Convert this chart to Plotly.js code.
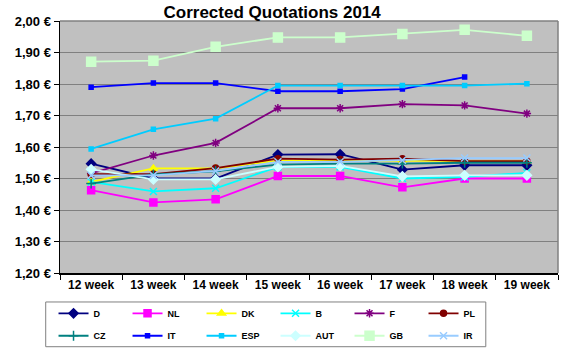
<!DOCTYPE html>
<html>
<head>
<meta charset="utf-8">
<script src="https://cdn.plot.ly/plotly-3.0.1.min.js"></script>
<style>html,body{margin:0;padding:0;background:#fff;}#chart{width:563px;height:348px;}</style>
</head>
<body>
<div id="chart"></div>
<script>
var weeks = ["12 week","13 week","14 week","15 week","16 week","17 week","18 week","19 week"];
var D   = [1.547, 1.500, 1.500, 1.576, 1.577, 1.528, 1.542, 1.542];
var NL  = [1.463, 1.424, 1.434, 1.508, 1.508, 1.472, 1.500, 1.500];
var DK  = [1.489, 1.532, 1.532, 1.557, 1.557, 1.557, 1.555, 1.555];
var B   = [1.489, 1.459, 1.469, 1.537, 1.537, 1.500, 1.505, 1.518];
var F   = [1.516, 1.573, 1.613, 1.723, 1.723, 1.736, 1.732, 1.706];
var PL  = [1.514, 1.514, 1.533, 1.563, 1.560, 1.563, 1.555, 1.555];
var CZ  = [1.484, 1.513, 1.523, 1.544, 1.547, 1.547, 1.550, 1.550];
var IT  = [1.790, 1.803, 1.803, 1.777, 1.777, 1.784, 1.822, null];
var ESP = [1.594, 1.656, 1.690, 1.795, 1.795, 1.795, 1.795, 1.801];
var AUT = [1.529, 1.497, 1.497, 1.537, 1.540, 1.507, 1.510, 1.510];
var GB  = [1.871, 1.874, 1.918, 1.948, 1.948, 1.959, 1.972, 1.953];
var IR  = [1.510, 1.510, 1.524, 1.553, 1.553, 1.558, 1.565, 1.565];

var seriesNames = ["D","NL","DK","B","F","PL","CZ","IT","ESP","AUT","GB","IR"];
var seriesData = [D, NL, DK, B, F, PL, CZ, IT, ESP, AUT, GB, IR];
var colors = ["#000080","#FF00FF","#FFFF00","#00FFFF","#800080","#800000","#008080","#0000FF","#00CCFF","#CCFFFF","#CCFFCC","#99CCFF"];
var symbols = ["diamond","square","triangle-up","x-thin-open","asterisk-open","circle","cross-thin-open","square","square","diamond","square","x-thin-open"];
var sizes = [7,7,7,7,7,6,7,4,4,7,9,7];

var traces = seriesNames.map(function(n, i){
  return {
    type: "scatter", mode: "lines+markers", name: n, x: weeks, y: seriesData[i],
    line: {color: colors[i], width: 1.8},
    marker: {symbol: symbols[i], size: sizes[i], color: colors[i], line: {color: colors[i], width: 1.5}},
    connectgaps: false,
    legend: i < 6 ? "legend" : "legend2"
  };
});

var legFont = {family: "Liberation Sans, Arial, sans-serif", size: 9, color: "#000", weight: "bold"};
var legCommon = {
  orientation: "h", xanchor: "left", yanchor: "middle", x: -0.013,
  bgcolor: "rgba(0,0,0,0)", borderwidth: 0, font: legFont,
  entrywidth: 29, entrywidthmode: "pixels", itemwidth: 30, traceorder: "normal"
};

var layout = {
  width: 563, height: 348,
  margin: {l: 60, r: 5, t: 21, b: 75, autoexpand: false},
  paper_bgcolor: "#FFFFFF",
  plot_bgcolor: "#C0C0C0",
  showlegend: true,
  title: {text: "<b>Corrected Quotations 2014</b>", font: {family: "Liberation Sans, Arial, sans-serif", size: 17, color: "#000"},
          xref: "paper", x: 0.426, xanchor: "center", yref: "container", y: 0.964, yanchor: "middle"},
  separators: ",.",
  xaxis: {
    type: "category", tickson: "boundaries", ticks: "outside", ticklen: 5, tickcolor: "#000",
    showline: true, linecolor: "#000", linewidth: 1.5, showgrid: false, zeroline: false,
    tickfont: {family: "Liberation Sans, Arial, sans-serif", size: 12, color: "#000", weight: "bold"},
    range: [-0.5, 7.5]
  },
  yaxis: {
    range: [1.2, 2.0], dtick: 0.1, tick0: 1.2, tickformat: ".2f", ticksuffix: " €",
    ticks: "outside", ticklen: 5, tickcolor: "#000",
    showline: true, linecolor: "#000", linewidth: 1.5, showgrid: true, gridcolor: "#808080", gridwidth: 1, zeroline: false,
    tickfont: {family: "Liberation Sans, Arial, sans-serif", size: 13, color: "#000", weight: "bold"}
  },
  legend: Object.assign({}, legCommon, {y: -0.16}),
  legend2: Object.assign({}, legCommon, {y: -0.249}),
  shapes: [
    {type: "line", xref: "paper", yref: "paper", x0: 0, x1: 1, y0: 1, y1: 1, line: {color: "#808080", width: 1.5}},
    {type: "line", xref: "paper", yref: "paper", x0: 1, x1: 1, y0: 0, y1: 1, line: {color: "#808080", width: 1.5}},
    {type: "rect", xref: "paper", yref: "paper", x0: -0.0287, x1: 0.855, y0: -0.115, y1: -0.2925, line: {color: "#808080", width: 1}, fillcolor: "rgba(0,0,0,0)"}
  ]
};

Plotly.newPlot("chart", traces, layout, {displayModeBar: false, staticPlot: true});
</script>
</body>
</html>
